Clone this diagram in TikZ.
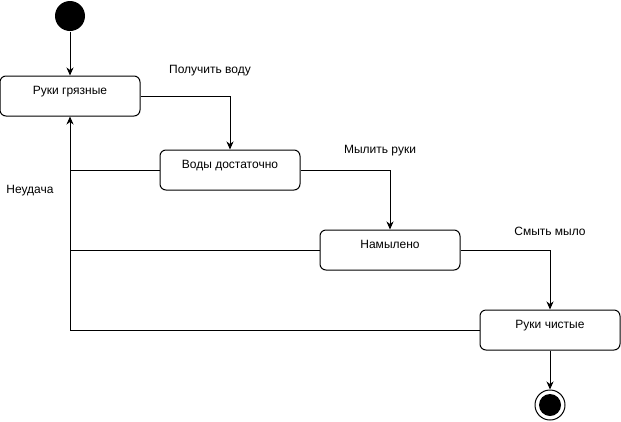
\documentclass[tikz,border=0pt]{standalone}
\usepackage{fontspec}
\setmainfont{Liberation Sans}
\usetikzlibrary{arrows.meta}
\begin{document}
\begin{tikzpicture}[x=1pt,y=-1pt,line width=1pt,
  every node/.style={font=\fontsize{12}{14}\selectfont},
  state/.style={draw,rounded corners=6pt,minimum width=140pt,minimum height=40pt,inner sep=0pt,text height=9pt,text depth=12.4pt},
  lbl/.style={inner sep=0pt},
  arr/.style={-{Stealth[length=8pt,width=7pt,inset=2.5pt]}}]
\useasboundingbox (0,0) rectangle (621,421);
\node[circle,fill=black,minimum size=30pt,inner sep=0pt] (init) at (70,16) {};
\node[state] (b1) at (70,96) {Руки грязные};
\node[state] (b2) at (230,170) {Воды достаточно};
\node[state] (b3) at (390,250) {Намылено};
\node[state] (b4) at (550,330) {Руки чистые};
\node[circle,draw,minimum size=30pt,inner sep=0pt] (fin) at (550,405) {};
\node[circle,fill=black,minimum size=22pt,inner sep=0pt] (finin) at (fin) {};
\node[lbl] (l1) at (210,71) {Получить воду};
\node[lbl] (l2) at (380,151) {Мылить руки};
\node[lbl] (l3) at (550,231) {Смыть мыло};
\node[lbl] (l4) at (30,191) {Неудача};
\draw[arr] (init) -- (b1);
\draw[arr] (b1.east) -| (b2.north);
\draw[arr] (b2.east) -| (b3.north);
\draw[arr] (b3.east) -| (b4.north);
\draw[arr] (b4) -- (fin);
\draw[arr] (b4.west) -| (b1.south);
\draw (b2.west) -- (b2.west -| b1.south);
\draw (b3.west) -- (b3.west -| b1.south);
\end{tikzpicture}
\end{document}
